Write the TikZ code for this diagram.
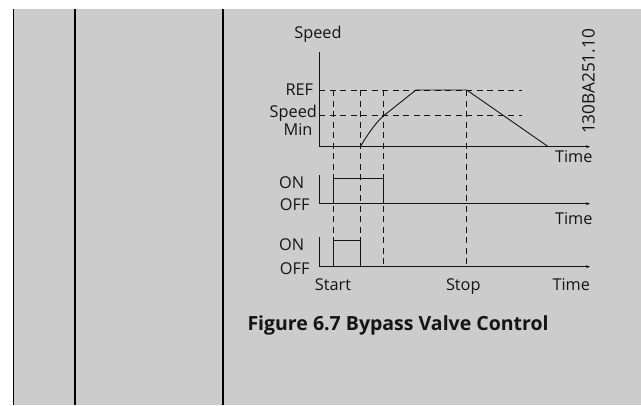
\documentclass[tikz,border=0pt]{standalone}
\usepackage{fontspec}
\setmainfont{Open Sans}
\usetikzlibrary{arrows.meta}
\definecolor{bg}{HTML}{CCCCCC}
\definecolor{ink}{HTML}{141414}
\tikzset{
  lbl/.style={inner sep=0pt, text=ink, font=\fontsize{16.3}{19}\selectfont, anchor=base},
  axisline/.style={draw=ink, line width=0.9pt},
  timeaxis/.style={axisline, -{Stealth[length=4pt,width=3pt]}},
  guide/.style={draw=ink, line width=0.7pt, dash pattern=on 6pt off 4.5pt},
  signal/.style={draw=ink, line width=0.9pt},
  panel/.style={draw=black, line width=1.6pt}
}
\begin{document}
\begin{tikzpicture}[x=1pt,y=-1pt]
\useasboundingbox (0,0) rectangle (641,405);
\fill[white] (0,0) rectangle (641,405);
\fill[bg] (13,9) rectangle (641,405);
% panel lines
\draw[panel] (13.3,9) -- (13.3,405);
\draw[panel] (75,9) -- (75,405);
\draw[panel] (223,9) -- (223,405);

% coordinates
\coordinate (o1) at (319.3,146.7);
\coordinate (t1) at (319.3,51.7);
\coordinate (e1) at (590,146.7);
\coordinate (o2) at (319.3,203.7);
\coordinate (t2) at (319.3,175);
\coordinate (e2) at (590,203.7);
\coordinate (o3) at (319.3,266.7);
\coordinate (t3) at (319.3,236.7);
\coordinate (e3) at (590,266.7);
\coordinate (refL) at (319.3,90);
\coordinate (refR) at (521.7,90);
\coordinate (minL) at (319.3,115.7);
\coordinate (minR) at (521.7,115.7);
\coordinate (vaT) at (333.3,90);   \coordinate (vaB) at (333.3,266.7);
\coordinate (vbT) at (360.3,90);   \coordinate (vbB) at (360.3,266.7);
\coordinate (vcT) at (383.7,90);   \coordinate (vcB) at (383.7,266.7);
\coordinate (vdT) at (466.7,90);   \coordinate (vdB) at (466.7,266.7);

% guides
\draw[guide] (refL) -- (refR);
\draw[guide] (minL) -- (minR);
\draw[guide] (vaT) -- (vaB);
\draw[guide] (vbT) -- (vbB);
\draw[guide] (vcT) -- (vcB);
\draw[guide] (vdT) -- (vdB);

% axes
\draw[axisline] (t1) -- (o1);
\draw[timeaxis] (o1) -- (e1);
\draw[axisline] (t2) -- (o2);
\draw[timeaxis] (o2) -- (e2);
\draw[axisline] (t3) -- (o3);
\draw[timeaxis] (o3) -- (e3);

% speed curve
\draw[signal] (360.3,146.7) .. controls (366,137) and (375.5,122.5) .. (383.7,115.7)
   -- (416,90) -- (466.7,90) -- (548.3,146.7);
% valve signals
\draw[signal] (333.3,203.7) -- (333.3,178.3) -- (383.7,178.3) -- (383.7,203.7);
\draw[signal] (333.3,266.7) -- (333.3,240.3) -- (360.3,240.3) -- (360.3,266.7);

% labels
\node[lbl] (speed) at (318,38.3) {Speed};
\node[lbl, anchor=base east] (ref) at (313.3,95) {REF};
\node[lbl] (smin1) at (293.3,117.3) {Speed};
\node[lbl] (smin2) at (298,135) {Min};
\node[lbl] (time1) at (573.8,162.7) {Time};
\node[lbl] (on1) at (291.7,188.3) {ON};
\node[lbl] (off1) at (294.7,210) {OFF};
\node[lbl] (time2) at (573.8,224.3) {Time};
\node[lbl] (on2) at (291.7,250) {ON};
\node[lbl] (off2) at (294.7,274.3) {OFF};
\node[lbl] (start) at (333,290) {Start};
\node[lbl] (stop) at (463.3,290) {Stop};
\node[lbl] (time3) at (571.3,290) {Time};
\node[lbl, font=\fontsize{17.2}{20}\selectfont, anchor=center, rotate=90] (code) at (588.5,81.5) {130BA251.10};
\node[lbl, anchor=base west, font=\fontsize{19.5}{23}\selectfont\bfseries] (cap) at (247.3,330.7) {Figure 6.7 Bypass Valve Control};
\end{tikzpicture}
\end{document}
